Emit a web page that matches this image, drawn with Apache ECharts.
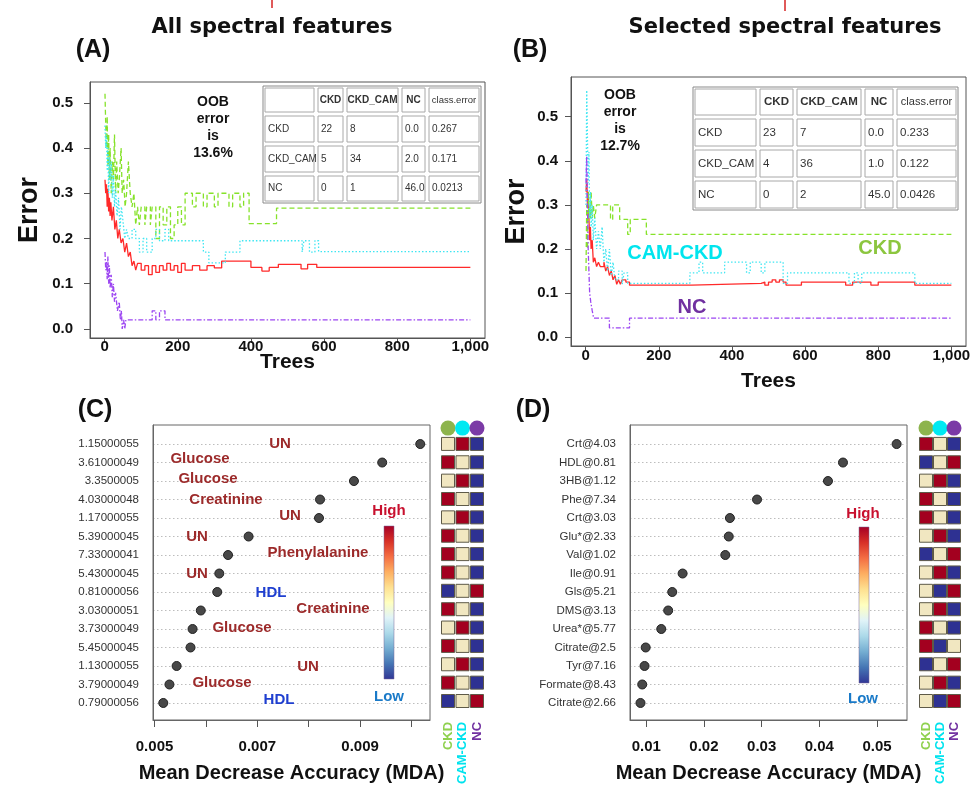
<!DOCTYPE html>
<html>
<head>
<meta charset="utf-8">
<script src="https://cdn.jsdelivr.net/npm/echarts@6/dist/echarts.min.js"></script>
<style>
  html, body { margin: 0; padding: 0; background: #fff; }
  #main { width: 974px; height: 787px; }
</style>
</head>
<body>
<div id="main"></div>
<script>
// ---- data ----
const treeTicks = [0, 200, 400, 600, 800, 1000];
const errTicks = [0, 0.1, 0.2, 0.3, 0.4, 0.5];

// panel A: all spectral features (tree, error)
const aOOB = [[1,0.33],[3,0.3],[5,0.32],[7,0.27],[9,0.31],[11,0.26],[13,0.29],[15,0.25],[17,0.28],[20,0.24],[24,0.27],[28,0.22],[32,0.24],[36,0.2],[40,0.22],[45,0.19],[50,0.2],[55,0.17],[60,0.19],[65,0.16],[70,0.17],[75,0.14],[80,0.15],[85,0.13],[90,0.145],[100,0.13],[110,0.14],[120,0.12],[130,0.14],[140,0.125],[150,0.14],[160,0.13],[170,0.145],[180,0.13],[190,0.14],[200,0.125],[210,0.145],[220,0.13],[240,0.14],[260,0.13],[280,0.14],[300,0.135],[320,0.15],[400,0.136],[430,0.128],[450,0.136],[475,0.143],[537,0.133],[555,0.143],[580,0.136],[1000,0.136]];
const aCKD = [[1,0.52],[3,0.45],[5,0.4],[7,0.47],[9,0.36],[11,0.43],[13,0.33],[15,0.4],[18,0.3],[21,0.37],[24,0.33],[27,0.43],[30,0.3],[33,0.37],[37,0.3],[40,0.33],[45,0.4],[48,0.3],[52,0.33],[56,0.27],[60,0.3],[65,0.37],[70,0.3],[75,0.27],[80,0.3],[85,0.23],[90,0.27],[95,0.23],[100,0.27],[110,0.23],[115,0.27],[125,0.23],[130,0.27],[140,0.2],[150,0.27],[160,0.23],[170,0.27],[180,0.2],[190,0.23],[200,0.27],[210,0.23],[220,0.3],[240,0.27],[250,0.3],[270,0.27],[280,0.3],[300,0.27],[310,0.3],[340,0.27],[350,0.3],[370,0.27],[380,0.3],[395,0.233],[470,0.267],[1000,0.267]];
const aCAM = [[1,0.45],[3,0.4],[5,0.43],[7,0.35],[9,0.4],[11,0.3],[13,0.38],[15,0.33],[18,0.37],[21,0.29],[24,0.34],[27,0.27],[30,0.31],[34,0.25],[38,0.29],[42,0.22],[46,0.27],[50,0.24],[55,0.2],[60,0.22],[65,0.2],[75,0.22],[85,0.2],[95,0.17],[105,0.2],[115,0.17],[130,0.2],[140,0.22],[150,0.195],[165,0.22],[175,0.195],[270,0.17],[285,0.146],[330,0.17],[370,0.195],[540,0.17],[545,0.195],[560,0.17],[575,0.195],[585,0.171],[1000,0.171]];
const aNC = [[1,0.17],[3,0.13],[5,0.15],[7,0.11],[9,0.16],[11,0.1],[13,0.14],[15,0.09],[18,0.12],[21,0.07],[24,0.1],[27,0.06],[30,0.08],[35,0.04],[40,0.06],[43,0.02],[46,0.04],[48,0],[52,0.02],[55,0],[58,0.02],[130,0.04],[140,0.02],[150,0.04],[165,0.02],[1000,0.0213]];

// panel B: selected spectral features
const bOOB = [[1,0.33],[3,0.36],[5,0.3],[7,0.33],[9,0.27],[11,0.22],[13,0.25],[15,0.2],[18,0.22],[21,0.17],[25,0.18],[30,0.16],[35,0.17],[40,0.16],[50,0.17],[55,0.15],[60,0.16],[65,0.14],[70,0.15],[75,0.13],[80,0.14],[85,0.12],[90,0.13],[95,0.12],[100,0.13],[110,0.125],[120,0.118],[290,0.122],[480,0.125],[490,0.118],[500,0.125],[510,0.13],[520,0.125],[530,0.13],[540,0.125],[548,0.118],[590,0.125],[711,0.118],[730,0.125],[780,0.118],[800,0.125],[900,0.118],[1000,0.118]];
const bCKD = [[1,0.15],[3,0.3],[5,0.2],[7,0.33],[9,0.27],[11,0.3],[13,0.27],[15,0.33],[18,0.27],[21,0.3],[25,0.27],[30,0.3],[68,0.267],[74,0.3],[93,0.267],[115,0.233],[122,0.267],[166,0.233],[1000,0.233]];
const bCAM = [[1,0.3],[3,0.56],[5,0.45],[7,0.35],[9,0.42],[11,0.27],[13,0.33],[15,0.25],[18,0.3],[21,0.22],[25,0.27],[30,0.2],[35,0.24],[40,0.2],[45,0.25],[50,0.17],[55,0.2],[60,0.15],[65,0.2],[70,0.14],[75,0.17],[80,0.13],[90,0.15],[100,0.12],[105,0.146],[115,0.122],[285,0.146],[310,0.17],[320,0.146],[380,0.17],[440,0.146],[450,0.17],[480,0.146],[490,0.17],[540,0.122],[552,0.146],[720,0.122],[735,0.146],[745,0.122],[755,0.146],[900,0.122],[1000,0.122]];
const bNC = [[1,0.35],[3,0.41],[5,0.3],[7,0.2],[9,0.15],[11,0.1],[14,0.08],[18,0.06],[22,0.043],[65,0.021],[120,0.043],[1000,0.043]];

// confusion tables
const tableHeader = ['', 'CKD', 'CKD_CAM', 'NC', 'class.error'];
const tableRows = ['CKD', 'CKD_CAM', 'NC'];
const aConf = [[22, 8, 0.0], [5, 34, 2.0], [0, 1, 46.0]];
const aErr = ['0.267', '0.171', '0.0213'];
const bConf = [[23, 7, 0.0], [4, 36, 1.0], [0, 2, 45.0]];
const bErr = ['0.233', '0.122', '0.0426'];

// panel C: MDA, all features (top to bottom)
const cNames = ['1.15000055','3.61000049','3.3500005','4.03000048','1.17000055','5.39000045','7.33000041','5.43000045','0.81000056','3.03000051','3.73000049','5.45000045','1.13000055','3.79000049','0.79000056'];
const cMda = [0.01017,0.00943,0.00888,0.00822,0.0082,0.00683,0.00643,0.00626,0.00622,0.0059,0.00574,0.0057,0.00543,0.00529,0.00517];
const cTicks = [0.005,0.006,0.007,0.008,0.009,0.010];
const cLabels = [0.005,0.007,0.009];
// 2 high, 1 mid, 0 low : CKD, CAM-CKD, NC
const cHeat = [[1,2,0],[2,1,0],[1,2,0],[2,1,0],[1,2,0],[2,1,0],[2,1,0],[2,1,0],[0,1,2],[2,1,0],[1,2,0],[2,1,0],[1,2,0],[2,1,0],[0,1,2]];

// panel D: MDA, selected features
const dNames = ['Crt@4.03','HDL@0.81','3HB@1.12','Phe@7.34','Crt@3.03','Glu*@2.33','Val@1.02','Ile@0.91','Gls@5.21','DMS@3.13','Urea*@5.77','Citrate@2.5','Tyr@7.16','Formate@8.43','Citrate@2.66'];
const dMda = [0.0534,0.0441,0.0415,0.0292,0.0245,0.0243,0.0237,0.0163,0.0145,0.0138,0.0126,0.0099,0.0097,0.0093,0.009];
const dTicks = [0.01,0.02,0.03,0.04,0.05];
const dHeat = [[2,1,0],[0,1,2],[1,2,0],[2,1,0],[2,1,0],[1,2,0],[0,1,2],[1,2,0],[1,0,2],[1,2,0],[2,1,0],[2,0,1],[0,1,2],[1,2,0],[1,0,2]];

const groups = ['CKD', 'CAM-CKD', 'NC'];

// ---- style ----
const FONT = 'Liberation Sans, Arial, sans-serif';
const heatColors = ['#2e3192', '#f1e7c1', '#a3001f'];
const groupDot = ['#8db44d', '#00e9f2', '#7b3aa6'];
const groupText = ['#8fd14f', '#00e3ee', '#7030a0'];
const lineCols = { oob: '#ff2a2a', ckd: '#86e22a', cam: '#3ee6f2', nc: '#9c45f2' };
const dark = '#9c2a2a', hdl = '#1f3fd0';

const chart = echarts.init(document.getElementById('main'), null, { renderer: 'canvas' });

function lineSeries(data, idx, col, type) {
  return {
    type: 'line', xAxisIndex: idx, yAxisIndex: idx, data: data, step: 'end',
    showSymbol: false, symbol: 'none', animation: false,
    lineStyle: { color: col, width: 1.3, type: type }
  };
}

function treeX(idx, margin, gap) {
  return {
    gridIndex: idx, type: 'value', min: -40, max: 1040,
    name: 'Trees', nameLocation: 'middle', nameGap: gap, nameMoveOverlap: false,
    nameTextStyle: { fontFamily: FONT, fontWeight: 'bold', fontSize: 21, color: '#111' },
    axisLine: { show: true, onZero: false, lineStyle: { color: '#555' } },
    axisTick: { show: true, length: 5, customValues: treeTicks, lineStyle: { color: '#555' } },
    axisLabel: { customValues: treeTicks, margin: margin, fontFamily: FONT, fontWeight: 'bold', fontSize: 15, color: '#111' },
    splitLine: { show: false }
  };
}
function errY(idx, max, gap, margin) {
  return {
    gridIndex: idx, type: 'value', min: -0.02, max: max,
    name: 'Error', nameLocation: 'middle', nameGap: gap, nameRotate: 90, nameMoveOverlap: false,
    nameTextStyle: { fontFamily: FONT, fontWeight: 'bold', fontSize: 27, color: '#111' },
    axisLine: { show: true, onZero: false, lineStyle: { color: '#555' } },
    axisTick: { show: true, length: 6, customValues: errTicks, lineStyle: { color: '#555' } },
    axisLabel: { customValues: errTicks, margin: margin, formatter: v => v.toFixed(1), fontFamily: FONT, fontWeight: 'bold', fontSize: 15, color: '#111' },
    splitLine: { show: false }
  };
}
function mdaX(idx, min, max, ticks, labels) {
  return {
    gridIndex: idx, type: 'value', min: min, max: max,
    name: 'Mean Decrease Accuracy (MDA)', nameLocation: 'middle', nameGap: 43, nameMoveOverlap: false,
    nameTextStyle: { fontFamily: FONT, fontWeight: 'bold', fontSize: 20, color: '#111' },
    axisLine: { show: true, onZero: false, lineStyle: { color: '#666' } },
    axisTick: { show: true, length: 7, customValues: ticks, lineStyle: { color: '#555' } },
    axisLabel: { customValues: labels, margin: 19, formatter: v => String(+v.toFixed(3)), fontFamily: FONT, fontWeight: 'bold', fontSize: 15, color: '#111' },
    splitLine: { show: false }
  };
}
function rowY(idx, names) {
  const rows = names.map((n, i) => names.length - i);
  return {
    gridIndex: idx, type: 'value', min: 0.08, max: 16.03,
    axisLine: { show: true, onZero: false, lineStyle: { color: '#666' } },
    axisTick: { show: false, customValues: rows },
    axisLabel: { customValues: rows, margin: 14, formatter: v => names[names.length - Math.round(v)] || '', fontFamily: FONT, fontSize: 11.5, color: '#333' },
    splitLine: { show: true, lineStyle: { color: '#bdbdbd', type: [1.5, 2.5], width: 1 } }
  };
}
function heatX(idx) {
  return {
    gridIndex: idx, type: 'category', data: groups,
    axisLine: { show: false }, axisTick: { show: false },
    axisLabel: { rotate: 90, margin: 4, interval: 0, fontFamily: FONT, fontWeight: 'bold', fontSize: 13, color: (v, i) => groupText[i] }
  };
}
function heatY(idx) {
  return { gridIndex: idx, type: 'value', min: 0.08, max: 16.03, show: false };
}
function dotSeries(idx, vals) {
  return {
    type: 'scatter', xAxisIndex: idx, yAxisIndex: idx, symbolSize: 9, clip: false,
    data: vals.map((v, i) => [v, vals.length - i]),
    itemStyle: { color: '#484848', borderColor: '#222', borderWidth: 1, opacity: 1 }
  };
}
function heatSeries(idx, mat) {
  const data = [];
  mat.forEach((row, i) => row.forEach((lv, j) => data.push([j, mat.length - i, lv])));
  return {
    type: 'scatter', xAxisIndex: idx, yAxisIndex: idx, symbol: 'rect', symbolSize: 13, clip: false,
    data: data,
    itemStyle: { color: p => heatColors[p.value[2]], borderColor: '#5e5a48', borderWidth: 1, opacity: 1 }
  };
}
function circleSeries(idx) {
  return {
    type: 'scatter', xAxisIndex: idx, yAxisIndex: idx, symbolSize: 15, clip: false,
    data: groups.map((g, j) => [j, 15.86]),
    itemStyle: { color: p => groupDot[p.dataIndex], opacity: 1 }
  };
}

// confusion table drawn as graphic cells
function table(cols, rows, conf, err, fs) {
  const els = [{
    type: 'rect', z: 100,
    shape: { x: cols[0], y: rows[0], width: cols[5] - cols[0], height: rows[4] - rows[0] },
    style: { fill: '#fff', stroke: '#8a8a8a', lineWidth: 1 }
  }];
  for (let r = 0; r < 4; r++) {
    for (let c = 0; c < 5; c++) {
      const x = cols[c], y = rows[r], w = cols[c + 1] - cols[c], h = rows[r + 1] - rows[r];
      els.push({
        type: 'rect', z: 101,
        shape: { x: x + 2, y: y + 2, width: w - 4, height: h - 4 },
        style: { fill: 'none', stroke: '#a8a8a8', lineWidth: 1 }
      });
      let txt;
      if (r === 0) txt = tableHeader[c];
      else if (c === 0) txt = tableRows[r - 1];
      else if (c < 3) txt = String(conf[r - 1][c - 1]);
      else if (c === 3) txt = conf[r - 1][2].toFixed(1);
      else txt = err[r - 1];
      const head = r === 0;
      els.push({
        type: 'text', z: 102,
        style: {
          text: txt, x: head ? x + w / 2 : x + 5, y: y + h / 2,
          textAlign: head ? 'center' : 'left', textVerticalAlign: 'middle',
          align: head ? 'center' : 'left', verticalAlign: 'middle',
          font: (head && c < 4 ? 'bold ' : '') + (c === 4 && head ? fs - 0.5 : fs) + 'px ' + FONT,
          fill: '#333'
        }
      });
    }
  }
  return els;
}

function txt(text, x, y, color, size, family, lh) {
  return {
    type: 'text', z: 90,
    style: {
      text: text, x: x, y: y, fill: color, font: 'bold ' + size + 'px ' + (family || FONT),
      lineHeight: lh || size * 1.2,
      textAlign: 'center', textVerticalAlign: 'middle', align: 'center', verticalAlign: 'middle'
    }
  };
}

function colorbar(x, y0, y1) {
  return {
    type: 'rect', z: 90,
    shape: { x: x, y: y0, width: 10, height: y1 - y0 },
    style: {
      stroke: '#7a6a9a', lineWidth: 0.5,
      fill: new echarts.graphic.LinearGradient(0, 0, 0, 1, [
        '#a50026','#d73027','#f46d43','#fdae61','#fee090','#ffffbf','#e0f3f8','#abd9e9','#74add1','#4575b4','#313695'
      ].map((c, i) => ({ offset: i / 10, color: c })))
    }
  };
}

const TITLE = 'DejaVu Sans, ' + FONT;
const graphics = [
  { type: 'line', shape: { x1: 272, y1: 0, x2: 272, y2: 8 }, style: { stroke: '#e05a5a', lineWidth: 2 } },
  { type: 'line', shape: { x1: 785, y1: 0, x2: 785, y2: 11 }, style: { stroke: '#e05a5a', lineWidth: 2 } },
  txt('All spectral features', 272, 28, '#111', 21, TITLE),
  txt('Selected spectral features', 785, 28, '#111', 21, TITLE),
  txt('(A)', 93, 50, '#111', 25),
  txt('(B)', 530, 50, '#111', 25),
  txt('(C)', 95, 410, '#111', 25),
  txt('(D)', 533, 410, '#111', 25),
  txt('OOB\nerror\nis\n13.6%', 213, 128, '#111', 14, FONT, 17),
  txt('OOB\nerror\nis\n12.7%', 620, 121, '#111', 14, FONT, 17),
  txt('CAM-CKD', 675, 253, '#00e5ee', 20),
  txt('CKD', 880, 248, '#8cc63f', 20),
  txt('NC', 692, 307, '#7030a0', 20),
  // panel C annotations
  txt('UN', 280, 444, dark, 15),
  txt('Glucose', 200, 459, dark, 15),
  txt('Glucose', 208, 479, dark, 15),
  txt('Creatinine', 226, 500, dark, 15),
  txt('UN', 290, 516, dark, 15),
  txt('UN', 197, 537, dark, 15),
  txt('Phenylalanine', 318, 553, dark, 15),
  txt('UN', 197, 574, dark, 15),
  txt('HDL', 271, 593, hdl, 15),
  txt('Creatinine', 333, 609, dark, 15),
  txt('Glucose', 242, 628, dark, 15),
  txt('UN', 308, 667, dark, 15),
  txt('Glucose', 222, 683, dark, 15),
  txt('HDL', 279, 700, hdl, 15),
  colorbar(384, 526, 679),
  txt('High', 389, 511, '#c8102e', 15),
  txt('Low', 389, 697, '#1a7ac8', 15),
  colorbar(859, 527, 683),
  txt('High', 863, 514, '#c8102e', 15),
  txt('Low', 863, 699, '#1a7ac8', 15)
].concat(table([263, 316, 345, 400, 427, 481], [86, 114, 144, 174, 203], aConf, aErr, 10))
 .concat(table([693, 758, 795, 863, 895, 958], [87, 117, 148, 179, 210], bConf, bErr, 11.5));

const option = {
  animation: false,
  backgroundColor: '#fff',
  grid: [
    { left: 90, top: 82, width: 395, height: 256, show: true, borderColor: '#555', borderWidth: 1 },
    { left: 571, top: 77, width: 395, height: 269, show: true, borderColor: '#555', borderWidth: 1 },
    { left: 153, top: 425, width: 277, height: 295, show: true, borderColor: '#666', borderWidth: 1 },
    { left: 440.75, top: 425, width: 43.5, height: 295 },
    { left: 630, top: 425, width: 277, height: 295, show: true, borderColor: '#666', borderWidth: 1 },
    { left: 919, top: 425, width: 42, height: 295 }
  ],
  xAxis: [
    treeX(0, 1, 14), treeX(1, 2, 25),
    mdaX(2, 0.00497, 0.01036, cTicks, cLabels), heatX(3),
    mdaX(4, 0.00718, 0.0552, dTicks, dTicks), heatX(5)
  ],
  yAxis: [
    errY(0, 0.546, 47, 17), errY(1, 0.59, 41, 13),
    rowY(2, cNames), heatY(3),
    rowY(4, dNames), heatY(5)
  ],
  series: [
    lineSeries(aOOB, 0, lineCols.oob, 'solid'),
    lineSeries(aCKD, 0, lineCols.ckd, [5, 3]),
    lineSeries(aCAM, 0, lineCols.cam, [1.5, 2]),
    lineSeries(aNC, 0, lineCols.nc, [5, 2, 1.5, 2]),
    lineSeries(bOOB, 1, lineCols.oob, 'solid'),
    lineSeries(bCKD, 1, lineCols.ckd, [5, 3]),
    lineSeries(bCAM, 1, lineCols.cam, [1.5, 2]),
    lineSeries(bNC, 1, lineCols.nc, [5, 2, 1.5, 2]),
    dotSeries(2, cMda), heatSeries(3, cHeat), circleSeries(3),
    dotSeries(4, dMda), heatSeries(5, dHeat), circleSeries(5)
  ],
  graphic: graphics
};

chart.setOption(option);
</script>
</body>
</html>
